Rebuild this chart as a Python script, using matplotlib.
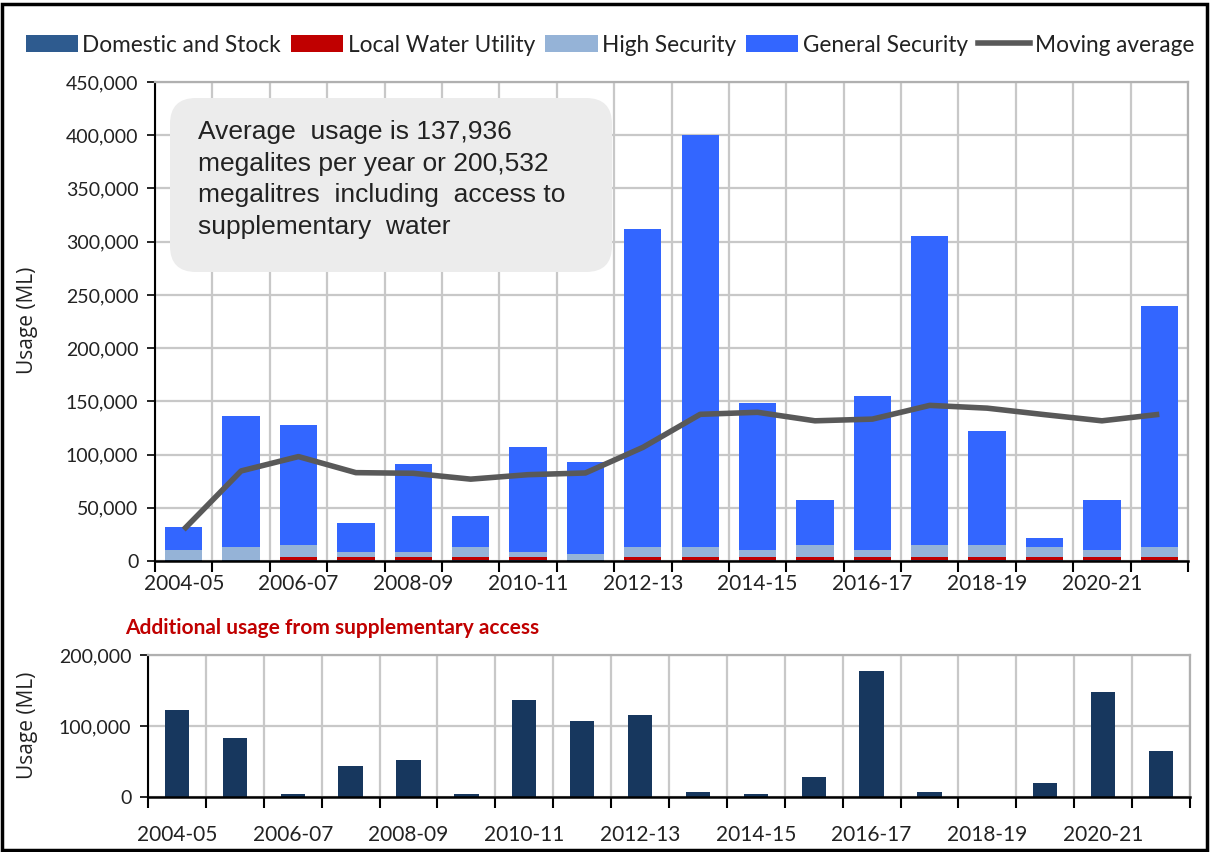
import matplotlib
matplotlib.use("Agg")
import matplotlib.pyplot as plt
import numpy as np
from matplotlib.patches import Patch, FancyBboxPatch, Rectangle
from matplotlib.lines import Line2D
from matplotlib.ticker import FuncFormatter, FixedLocator

# ---------------- data ----------------
years = ["2004-05", "2005-06", "2006-07", "2007-08", "2008-09", "2009-10",
         "2010-11", "2011-12", "2012-13", "2013-14", "2014-15", "2015-16",
         "2016-17", "2017-18", "2018-19", "2019-20", "2020-21", "2021-22"]
domestic_stock = [1000] * 18
local_water_utility = [0, 0, 2500, 2500, 2500, 2500, 2500, 0, 2500, 2500,
                       2500, 2500, 2500, 2500, 2500, 2500, 2500, 2500]
high_security = [9700, 11700, 11800, 4900, 4900, 9200, 4900, 5800, 9200, 9200,
                 7200, 11800, 7200, 11800, 11800, 9200, 7200, 9200]
general_security = [21100, 123800, 112900, 27600, 82300, 29800, 98700, 85800,
                    298800, 387300, 138000, 42200, 144400, 290000, 106500,
                    8700, 46800, 227000]
moving_average = [29500, 84600, 98100, 83000, 82400, 76900, 81100, 82700,
                  106700, 137800, 139700, 131700, 133300, 146200, 143600,
                  137500, 131700, 137800]
supplementary = [122300, 82800, 4700, 43700, 52100, 4700, 137200, 107000,
                 115800, 7000, 4200, 28600, 177500, 7000, 0, 19200, 147500,
                 64800]
top_yticks = [0, 50000, 100000, 150000, 200000, 250000, 300000, 350000,
              400000, 450000]
bottom_yticks = [0, 100000, 200000]
legend_labels = ["Domestic and Stock", "Local Water Utility", "High Security",
                 "General Security", "Moving average"]
note_text = ("Average  usage is 137,936\n"
             "megalites per year or 200,532\n"
             "megalitres  including  access to\n"
             "supplementary  water")
sub_title = "Additional usage from supplementary access"

# ---------------- style ----------------
C_DS = "#2e5b8f"
C_LWU = "#c00000"
C_HS = "#95b3d7"
C_GS = "#3366ff"
C_MA = "#595959"
C_SUP = "#17375e"
GRID = "#c8c8c8"
TICKFONT = "Lato"

W, H = 1210, 852
fig = plt.figure(figsize=(W / 100, H / 100), dpi=100)
fig.patch.set_facecolor("white")


def px_axes(left, top, right, bottom):
    return fig.add_axes([left / W, 1 - bottom / H, (right - left) / W,
                         (bottom - top) / H])


fmt = FuncFormatter(lambda v, p: f"{int(v):,}")
x = np.arange(len(years))


def style_axes(ax, ymax, yticks, xpad):
    ax.set_xlim(-0.5, len(years) - 0.5)
    ax.set_ylim(0, ymax)
    ax.yaxis.set_major_locator(FixedLocator(yticks))
    ax.yaxis.set_major_formatter(fmt)
    ax.xaxis.set_major_locator(FixedLocator(np.arange(-0.5, len(years), 1.0)))
    ax.xaxis.set_major_formatter(FuncFormatter(lambda v, p: ""))
    ax.xaxis.set_minor_locator(FixedLocator(x[::2]))
    ax.set_xticklabels([years[i] for i in x[::2]], minor=True)
    ax.tick_params(axis="x", which="major", direction="out", length=8,
                   width=1.5, color="black")
    ax.tick_params(axis="x", which="minor", length=0, pad=xpad,
                   labelsize=15, labelcolor="#222222")
    ax.tick_params(axis="y", direction="out", length=6, width=1.2,
                   labelsize=14, labelcolor="#222222", pad=6)
    for lab in ax.get_xticklabels(minor=True) + ax.get_yticklabels():
        lab.set_fontfamily(TICKFONT)
    ax.grid(True, which="major", color=GRID, linewidth=1.6)
    ax.set_axisbelow(True)
    ax.spines["left"].set_color("black")
    ax.spines["left"].set_linewidth(1.5)
    ax.spines["bottom"].set_color("black")
    ax.spines["bottom"].set_linewidth(1.8)
    ax.spines["top"].set_color("#b0b0b0")
    ax.spines["top"].set_linewidth(1.6)
    ax.spines["right"].set_color("#b0b0b0")
    ax.spines["right"].set_linewidth(1.6)


# ---------------- top chart ----------------
ax = px_axes(155, 82, 1188, 561)
style_axes(ax, 450000, top_yticks, 9)
bw = 0.65
b0 = np.zeros(len(years))
for vals, col in [(domestic_stock, C_DS), (local_water_utility, C_LWU),
                  (high_security, C_HS), (general_security, C_GS)]:
    ax.bar(x, vals, bw, bottom=b0, color=col, edgecolor="none", zorder=2)
    b0 = b0 + np.array(vals)
ax.plot(x, moving_average, color=C_MA, linewidth=4.0, zorder=3,
        solid_capstyle="butt")

# note box (inches coordinates)
box = FancyBboxPatch((170 / 100, (H - 272) / 100), 442 / 100, 174 / 100,
                     boxstyle="round,pad=0,rounding_size=0.26",
                     transform=fig.dpi_scale_trans, facecolor="#ececec",
                     edgecolor="none", zorder=5)
fig.patches.append(box)
fig.text(198 / W, 1 - 120 / H, note_text, ha="left", va="top",
         fontsize=19.0, family="Liberation Sans", color="#222222",
         linespacing=1.4, zorder=6)

fig.text(28 / W, 1 - 320 / H, "Usage (ML)", rotation=90, ha="center",
         va="center", fontsize=15, family="Open Sans", color="#222222")

# legend
handles = [Patch(facecolor=C_DS), Patch(facecolor=C_LWU), Patch(facecolor=C_HS),
           Patch(facecolor=C_GS),
           Line2D([0], [0], color=C_MA, linewidth=4)]
leg = fig.legend(handles, legend_labels, loc="center", ncol=5,
                 bbox_to_anchor=(610 / W, 1 - 45 / H), frameon=False,
                 handlelength=2.3, handleheight=0.75, handletextpad=0.2,
                 columnspacing=0.45,
                 prop={"family": TICKFONT, "size": 16.3})
for t in leg.get_texts():
    t.set_color("#222222")

# ---------------- bottom chart ----------------
fig.text(125 / W, 1 - 628 / H, sub_title, ha="left", va="center",
         fontsize=15, fontweight="bold", color="#c00000", family=TICKFONT)
ax2 = px_axes(148, 655, 1190, 797)
style_axes(ax2, 200000, bottom_yticks, 20)
ax2.bar(x, supplementary, 0.42, color=C_SUP, edgecolor="none", zorder=2)
fig.text(28 / W, 1 - 725 / H, "Usage (ML)", rotation=90, ha="center",
         va="center", fontsize=15, family="Open Sans", color="#222222")

# outer frame
fig.patches.append(Rectangle((2 / W, 2 / H), 1 - 5 / W, 1 - 6 / H,
                             transform=fig.transFigure, fill=False,
                             edgecolor="black", linewidth=2.5, zorder=10))

fig.savefig("out.png", dpi=100)
